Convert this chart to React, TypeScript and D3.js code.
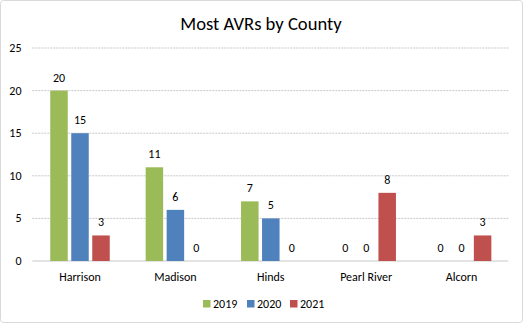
import React from "react";
import * as d3 from "d3";

const categories = ["Harrison", "Madison", "Hinds", "Pearl River", "Alcorn"];
const seriesNames = ["2019", "2020", "2021"];
const values2019 = [20, 11, 7, 0, 0];
const values2020 = [15, 6, 5, 0, 0];
const values2021 = [3, 0, 0, 8, 3];
const yTicks = [0, 5, 10, 15, 20, 25];
const colors = ["#9BBB59", "#4F81BD", "#C0504D"];

const W = 523, H = 323;
const FONT = "Carlito, Calibri, 'Liberation Sans', Arial, sans-serif";

export default function App() {
  const series = [values2019, values2020, values2021];
  const left = 32.3, right = 509.3, top = 48, bottom = 261;
  const x = d3.scaleBand<string>().domain(categories).range([left, right]).paddingInner(0).paddingOuter(0);
  const y = d3.scaleLinear().domain([0, 25]).range([bottom, top]);
  const barW = 17.5, gap = 3.5;
  const groupW = 3 * barW + 2 * gap;
  return (
    <svg width={W} height={H} style={{ position: "absolute", left: 0, top: 0 }} fontFamily={FONT}>
      <rect x={0.5} y={0.5} width={W - 1} height={H - 1} fill="#fff" stroke="#D9D9D9" rx={3} />
      <text x={261} y={30} textAnchor="middle" fontSize={18.6} fill="#000">Most AVRs by County</text>
      {yTicks.map((t) => (
        <g key={t}>
          <line x1={left} x2={right - 1} y1={y(t)} y2={y(t)} stroke="#C8C8C8" strokeDasharray={t === 0 ? undefined : "2,1"} />
          <text x={21.5} y={y(t) + 4} textAnchor="end" fontSize={12} fill="#000">{t}</text>
        </g>
      ))}
      {categories.map((c, i) => {
        const cx = x(c)! + x.bandwidth() / 2;
        return (
          <g key={c}>
            {series.map((s, j) => {
              const bx = cx - groupW / 2 + j * (barW + gap);
              return (
                <g key={j}>
                  {s[i] > 0 && (
                    <rect x={bx} y={y(s[i])} width={barW} height={y(0) - y(s[i])} fill={colors[j]} />
                  )}
                  <text x={bx + barW / 2} y={y(s[i]) - 9} textAnchor="middle" fontSize={12} fill="#000">{s[i]}</text>
                </g>
              );
            })}
            <text x={cx} y={281} textAnchor="middle" fontSize={12} fill="#000">{c}</text>
          </g>
        );
      })}
      {seriesNames.map((n, j) => {
        const lx = [203, 247, 290][j];
        return (
          <g key={n}>
            <rect x={lx} y={300} width={7.5} height={7.5} fill={colors[j]} />
            <text x={lx + 10} y={308} fontSize={12} fill="#000">{n}</text>
          </g>
        );
      })}
    </svg>
  );
}
